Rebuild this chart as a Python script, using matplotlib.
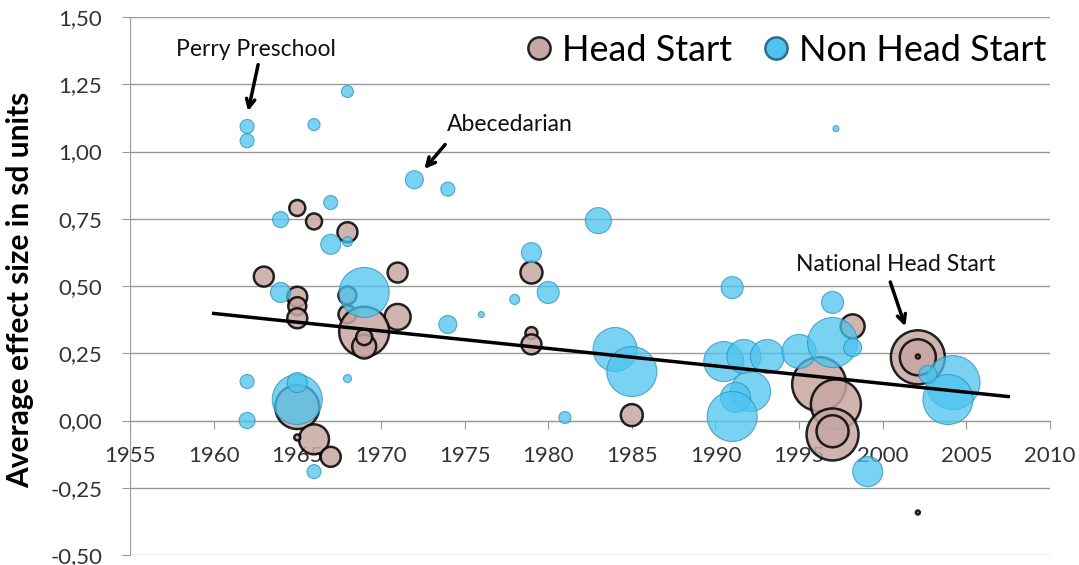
import matplotlib.pyplot as plt
import numpy as np
from matplotlib.lines import Line2D
from matplotlib.ticker import FuncFormatter

plt.rcParams['font.family'] = ['Lato', 'DejaVu Sans']

# Head Start programs: year, effect size, relative weight (bubble radius)
hs_year = [1963, 1965, 1966, 1968, 1965, 1965, 1965, 1968, 1968, 1971, 1971,
           1969, 1969, 1969, 1965, 1966, 1967, 1965, 1979, 1979, 1979, 1985,
           1998.2, 1996.2, 1997.2, 1997, 1997, 2002.1, 2002.1, 2002.1, 2002.1]
hs_eff = [0.535, 0.79, 0.74, 0.70, 0.46, 0.425, 0.38, 0.465, 0.395, 0.55, 0.385,
          0.33, 0.275, 0.31, 0.05, -0.07, -0.135, -0.063, 0.55, 0.325, 0.283, 0.02,
          0.35, 0.135, 0.06, -0.052, -0.04, 0.235, 0.235, 0.238, -0.342]
hs_w = [10, 8, 8, 10, 10, 9, 10, 9, 9, 10, 13,
        25, 12, 8, 22, 15, 10, 3, 11, 6, 10, 11,
        12, 27, 25, 26, 16, 27, 18, 2, 2]

# Non Head Start programs
nhs_year = [1962, 1962, 1968, 1966, 1972, 1974, 1967, 1964, 1967, 1968, 1964,
            1969, 1974, 1976, 1978, 1979, 1980, 1983, 1984, 1985, 1981, 1991,
            1997, 1990.5, 1991.7, 1993.1, 1995, 1992.1, 1991.2, 1991, 1997,
            1998.2, 1999.1, 2004.2, 2003.9, 2002.7, 1965, 1965, 1962, 1962,
            1968, 1966, 1997.2]
nhs_eff = [1.093, 1.04, 1.223, 1.10, 0.895, 0.86, 0.81, 0.747, 0.655, 0.665, 0.476,
           0.476, 0.357, 0.394, 0.45, 0.624, 0.476, 0.743, 0.264, 0.182, 0.011, 0.494,
           0.439, 0.219, 0.238, 0.238, 0.257, 0.108, 0.086, 0.015, 0.29,
           0.271, -0.19, 0.141, 0.078, 0.171, 0.078, 0.141, 0.145, 0.0,
           0.156, -0.19, 1.085]
nhs_w = [7, 7, 6, 6, 9, 7, 7, 8, 10, 5, 10,
         25, 9, 3, 5, 10, 11, 13, 22, 25, 6, 11,
         11, 20, 17, 17, 17, 20, 15, 25, 25,
         9, 15, 27, 25, 9, 25, 10, 7, 8,
         4, 7, 3]

# fitted trend line end points
trend_x = [1960, 2007.5]
trend_y = [0.398, 0.089]

annotations = [
    ("Perry Preschool", (1962.54, 1.379), (1962.66, 1.323), (1962.06, 1.15)),
    ("Abecedarian", (1977.7, 1.10), (1973.84, 1.026), (1972.6, 0.935)),
    ("National Head Start", (2000.75, 0.58), (2000.45, 0.515), (2001.35, 0.35)),
]


def area(w):
    # radius in pixels -> marker area in points^2 (dpi 100)
    return (1.44 * np.array(w)) ** 2


fig = plt.figure(figsize=(10.79, 5.65), dpi=100)
ax = fig.add_axes([130 / 1079, 10 / 565, 920 / 1079, 538 / 565])

ax.scatter(hs_year, hs_eff, s=area(hs_w), facecolor='#c7a7a3', edgecolor='black',
           linewidth=1.8, alpha=0.85, zorder=3)
ax.scatter(nhs_year, nhs_eff, s=area(nhs_w), facecolor='#4cc4ee', edgecolor='#2a92bd',
           linewidth=0.8, alpha=0.75, zorder=4)
ax.plot(trend_x, trend_y, color='black', lw=2.5, zorder=6)

for label, txt_pos, tail, head in annotations:
    ax.text(txt_pos[0], txt_pos[1], label, fontsize=16.5, ha='center', va='center',
            color='#111111', zorder=7)
    ax.annotate('', xy=head, xytext=tail,
                arrowprops=dict(arrowstyle='->,head_length=0.6,head_width=0.3', lw=2.5,
                                color='black', shrinkA=0, shrinkB=0), zorder=7)

ax.set_xlim(1955, 2010)
ax.set_ylim(-0.5, 1.5)
ax.set_xticks(np.arange(1955, 2011, 5))
ax.set_yticks(np.arange(-0.5, 1.51, 0.25))
ax.yaxis.set_major_formatter(FuncFormatter(lambda v, p: f"{v:.2f}".replace('.', ',')))
ax.grid(axis='y', color='#999999', lw=1)
ax.set_axisbelow(True)

for side in ['top', 'right']:
    ax.spines[side].set_visible(False)
ax.spines['bottom'].set_position(('data', 0))
ax.spines['bottom'].set_color('#999999')
ax.spines['left'].set_color('#999999')
ax.tick_params(axis='both', colors='#999999', length=6, labelsize=16, labelcolor='#333333')
ax.tick_params(axis='y', pad=14)
ax.tick_params(axis='x', pad=12)

fig.text(20 / 1079, 0.487, 'Average effect size in sd units', rotation=90, fontsize=21.5,
         fontweight='bold', ha='center', va='center')

handles = [Line2D([], [], marker='o', ls='', markersize=16, markerfacecolor='#c7a7a3',
                  markeredgecolor='#222222', markeredgewidth=1.8),
           Line2D([], [], marker='o', ls='', markersize=16, markerfacecolor='#4cc4ee',
                  markeredgecolor='#2a6f8c', markeredgewidth=1.8)]
ax.legend(handles, ['Head Start', 'Non Head Start'], loc='upper right', ncol=2, frameon=False,
          fontsize=26, handlelength=0.8, handletextpad=0.25, columnspacing=0.8,
          borderaxespad=0.0, bbox_to_anchor=(1.012, 0.995))

plt.savefig('out.png', dpi=100)
